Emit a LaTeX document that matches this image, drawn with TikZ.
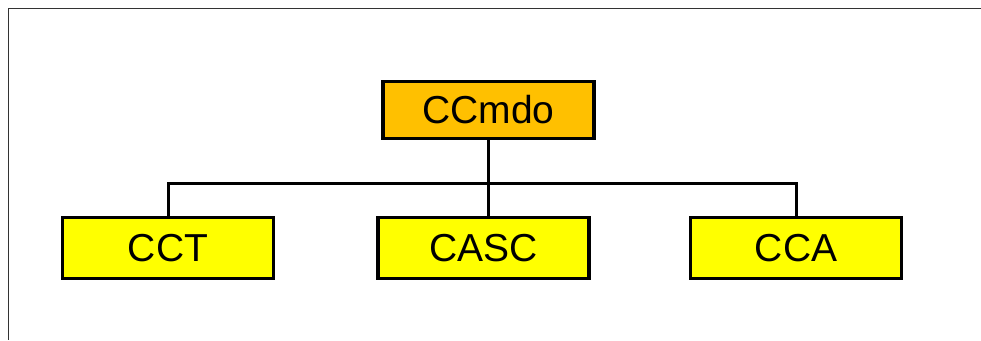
\documentclass[tikz,border=0pt]{standalone}
\usepackage{fontspec}
\setmainfont{Liberation Sans}
\usetikzlibrary{positioning}
\definecolor{boss}{RGB}{255, 192, 0}
\definecolor{unit}{RGB}{255, 255, 0}
\tikzstyle{head} = [rectangle, draw=black, line width=3.5pt, fill=boss, text=black, font=\fontsize{39}{42}\selectfont, minimum width=211pt, minimum height=57pt, inner sep=0pt]
\tikzstyle{sub} = [rectangle, draw=black, line width=3.5pt, fill=unit, text=black, font=\fontsize{39}{42}\selectfont, minimum width=211pt, minimum height=61pt, inner sep=0pt]
\tikzstyle{tedge} = [draw, line width=3pt]
\begin{document}
\begin{tikzpicture}[auto]
\useasboundingbox (0pt,0pt) rectangle (981pt,-340pt);

% frame
\draw[line width=1pt, black!80] (981pt,-8pt) -- (8pt,-8pt) -- (8pt,-340pt);

% boxes =============================
\node[head] (ccmdo) at (488.5pt,-110pt) {CCmdo};
\node[sub] (casc) at (483.5pt,-248pt) {CASC};
\node[sub, left=101pt of casc] (cct) {CCT};
\node[sub, right=98pt of casc] (cca) {CCA};

% bar
\coordinate[below=43pt of ccmdo.south] (bar);

%edges
\path[tedge] (ccmdo.south) -- (ccmdo.south |- casc.north);
\path[tedge] (cct.north) |- (bar) -| (cca.north);

\end{tikzpicture}
\end{document}
